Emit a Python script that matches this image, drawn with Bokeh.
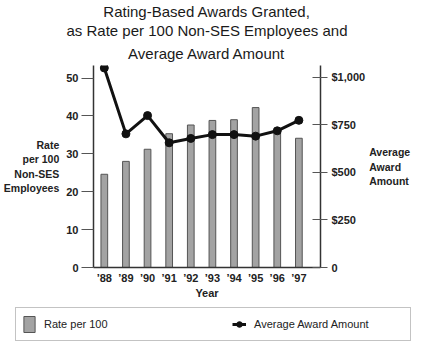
from bokeh.plotting import figure
from bokeh.models import (Range1d, LinearAxis, FixedTicker, NumeralTickFormatter,
                          Legend, LegendItem, Title)
from bokeh.layouts import column
from bokeh.embed import file_html
from bokeh.resources import INLINE

# ---- data ----
years = [1988, 1989, 1990, 1991, 1992, 1993, 1994, 1995, 1996, 1997]
year_labels = ["\u201988", "\u201989", "\u201990", "\u201991", "\u201992",
               "\u201993", "\u201994", "\u201995", "\u201996", "\u201997"]
rate_per_100 = [24.6, 28.0, 31.2, 35.3, 37.6, 38.8, 39.0, 42.2, 35.9, 34.1]
avg_award = [1048, 702, 798, 655, 678, 698, 698, 690, 718, 773]
left_ticks = [0, 10, 20, 30, 40, 50]
right_ticks = [0, 250, 500, 750, 1000]
title_lines = ["Rating-Based Awards Granted,",
               "as Rate per 100 Non-SES Employees and",
               "Average Award Amount"]
left_title = "Rate\nper 100\nNon-SES\nEmployees"
right_title = "Average\nAward\nAmount"
legend_labels = ["Rate per 100", "Average Award Amount"]

FONT = "Liberation Sans"
AX = "#333333"
TXT = "#222222"
BAR = dict(width=0.31, bottom=0, fill_color="#a3a3a3", line_color="#555555",
           line_width=1)
LINE = dict(line_color="#111111", line_width=3)
DOT = dict(size=8, fill_color="#111111", line_color="#111111")

p = figure(width=413, height=307, x_range=Range1d(1987.5, 1998.0),
           y_range=Range1d(0, 53.3), output_backend="svg", toolbar_location=None,
           min_border_left=88, min_border_right=88, min_border_top=60,
           min_border_bottom=40, title=None)
p.extra_y_ranges = {"amt": Range1d(0, 1061)}
p.outline_line_color = None
p.xgrid.visible = False
p.ygrid.visible = False
p.background_fill_color = "white"
p.border_fill_color = "white"

p.vbar(x=years, top=rate_per_100, **BAR)
p.line(x=years, y=avg_award, y_range_name="amt", **LINE)
p.scatter(x=years, y=avg_award, y_range_name="amt", **DOT)

# title: one centred line per Title, stacked from the frame outward
for i, t in enumerate(reversed(title_lines)):
    p.add_layout(Title(text=t, align="center", offset=10,
                       standoff=8 if i == 0 else 0,
                       text_font=FONT, text_font_size="15px",
                       text_font_style="normal", text_color="#1a1a1a"), "above")

# x axis
xa = p.xaxis[0]
xa.ticker = FixedTicker(ticks=years)
xa.major_label_overrides = {y: l for y, l in zip(years, year_labels)}
xa.major_tick_out = 0
xa.major_tick_in = 0
xa.minor_tick_out = 0
xa.minor_tick_in = 0
xa.major_label_standoff = 4
xa.axis_line_color = AX
xa.axis_line_width = 1.5
xa.major_label_text_font = FONT
xa.major_label_text_font_style = "bold"
xa.major_label_text_font_size = "11px"
xa.major_label_text_color = TXT
xa.axis_label = "Year"
xa.axis_label_standoff = 0
xa.axis_label_text_font = FONT
xa.axis_label_text_font_style = "bold"
xa.axis_label_text_font_size = "11px"
xa.axis_label_text_color = TXT

# left axis
ya = p.yaxis[0]
ya.ticker = FixedTicker(ticks=left_ticks)
ya.major_tick_out = 12
ya.major_tick_in = 0
ya.minor_tick_out = 0
ya.minor_tick_in = 0
ya.major_tick_line_color = "#555555"
ya.major_label_standoff = 3
ya.axis_line_color = AX
ya.axis_line_width = 1.5
ya.major_label_text_font = FONT
ya.major_label_text_font_style = "bold"
ya.major_label_text_font_size = "11px"
ya.major_label_text_color = TXT
ya.axis_label = left_title
ya.axis_label_orientation = "horizontal"
ya.axis_label_standoff = 4
ya.axis_label_text_align = "right"
ya.axis_label_text_font = FONT
ya.axis_label_text_font_style = "bold"
ya.axis_label_text_font_size = "10.5px"
ya.axis_label_text_color = TXT

# right axis
ra = LinearAxis(y_range_name="amt", ticker=FixedTicker(ticks=right_ticks),
                formatter=NumeralTickFormatter(format="$0,0"))
ra.major_label_overrides = {right_ticks[0]: str(right_ticks[0])}
ra.major_tick_out = 7
ra.major_tick_in = 8
ra.minor_tick_out = 0
ra.minor_tick_in = 0
ra.major_tick_line_color = "#555555"
ra.major_label_standoff = 4
ra.axis_line_color = AX
ra.axis_line_width = 1.5
ra.major_label_text_font = FONT
ra.major_label_text_font_style = "bold"
ra.major_label_text_font_size = "11px"
ra.major_label_text_color = TXT
ra.axis_label = right_title
ra.axis_label_orientation = "horizontal"
ra.axis_label_standoff = 1
ra.axis_label_text_align = "left"
ra.axis_label_text_font = FONT
ra.axis_label_text_font_style = "bold"
ra.axis_label_text_font_size = "10.5px"
ra.axis_label_text_color = TXT
p.add_layout(ra, "right")

# ---- legend strip (its own small figure; series drawn outside its view) ----
q = figure(width=413, height=35, x_range=Range1d(0, 1), y_range=Range1d(0, 1),
           output_backend="svg", toolbar_location=None, x_axis_type=None,
           y_axis_type=None, min_border=0, title=None)
q.outline_line_color = None
q.xgrid.visible = False
q.ygrid.visible = False
lb = q.vbar(x=years, top=rate_per_100, **BAR)
ll = q.line(x=years, y=avg_award, **LINE)
ls = q.scatter(x=years, y=avg_award, **DOT)

free = "frame_align" in q.properties()
if free:
    p.frame_align = False
    q.frame_align = False
    leg_kw = dict(location=(15, 1.5), glyph_width=14, glyph_height=20,
                  label_height=20, label_width=150, padding=6, spacing=38,
                  label_standoff=8, label_text_font_size="11px")
else:
    leg_kw = dict(location=(8, 1.5), glyph_width=12, glyph_height=20,
                  label_height=20, padding=5, spacing=12, label_standoff=5,
                  label_text_font_size="10px")

leg = Legend(items=[LegendItem(label=legend_labels[0], renderers=[lb]),
                    LegendItem(label=legend_labels[1], renderers=[ll, ls])],
             orientation="horizontal", margin=0, border_line_color="#888888",
             border_line_width=1, background_fill_color="white",
             background_fill_alpha=1, label_text_font=FONT,
             label_text_color=TXT, **leg_kw)
q.add_layout(leg)

open("out.html", "w").write(file_html(column(p, q, spacing=0), INLINE))
